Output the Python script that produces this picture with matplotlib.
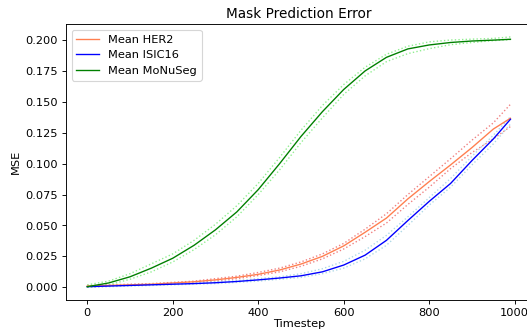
import matplotlib
matplotlib.use("Agg")
import matplotlib.pyplot as plt
import numpy as np

# timesteps (sampled every 50, last one is 990)
timesteps = [0, 50, 100, 150, 200, 250, 300, 350, 400, 450, 500,
             550, 600, 650, 700, 750, 800, 850, 900, 950, 990]

# HER2
her2_mean = [0.001, 0.0015, 0.002, 0.0025, 0.0035, 0.0045, 0.006, 0.008, 0.0105, 0.014, 0.0188,
             0.025, 0.0335, 0.0445, 0.056, 0.0715, 0.0855, 0.099, 0.113, 0.128, 0.1367]
her2_run1 = [0.0015, 0.002, 0.0025, 0.003, 0.004, 0.005, 0.007, 0.009, 0.012, 0.0155, 0.0205,
             0.027, 0.0355, 0.047, 0.0595, 0.075, 0.0895, 0.104, 0.119, 0.133, 0.148]
her2_run2 = [0.0, 0.001, 0.0015, 0.002, 0.003, 0.004, 0.005, 0.007, 0.0095, 0.0125, 0.017,
             0.023, 0.031, 0.041, 0.052, 0.067, 0.081, 0.096, 0.109, 0.12, 0.13]

# ISIC16
isic_mean = [0.0005, 0.001, 0.0015, 0.002, 0.0025, 0.003, 0.0037, 0.0047, 0.006, 0.0075, 0.0093,
             0.0125, 0.018, 0.026, 0.038, 0.054, 0.0695, 0.084, 0.1025, 0.12, 0.1359]
isic_run1 = [0.001, 0.0015, 0.002, 0.0025, 0.003, 0.0035, 0.0045, 0.0055, 0.007, 0.0085, 0.011,
             0.015, 0.021, 0.03, 0.042, 0.057, 0.0725, 0.088, 0.106, 0.123, 0.138]
isic_run2 = [0.0, 0.0005, 0.001, 0.0015, 0.002, 0.0025, 0.003, 0.004, 0.005, 0.0065, 0.008,
             0.011, 0.0155, 0.023, 0.034, 0.05, 0.0665, 0.081, 0.099, 0.116, 0.132]

# MoNuSeg
monu_mean = [0.0005, 0.0035, 0.0085, 0.0155, 0.0235, 0.034, 0.0465, 0.061, 0.079, 0.1, 0.122,
             0.142, 0.16, 0.175, 0.186, 0.1928, 0.196, 0.198, 0.1992, 0.1999, 0.2006]
monu_run1 = [0.002, 0.005, 0.011, 0.019, 0.027, 0.038, 0.051, 0.066, 0.084, 0.105, 0.127,
             0.147, 0.164, 0.178, 0.1885, 0.195, 0.1985, 0.2, 0.2007, 0.2013, 0.2025]
monu_run2 = [0.0, 0.002, 0.0065, 0.0125, 0.0205, 0.0305, 0.0425, 0.057, 0.075, 0.095, 0.117,
             0.137, 0.156, 0.171, 0.1825, 0.189, 0.193, 0.1962, 0.198, 0.1995, 0.2003]

# low dpi so the default font sizes come out like the reference
fig = plt.figure(figsize=(6.427, 4.086), dpi=82)
# axes runs a little past the right edge, like the cropped original
ax = fig.add_axes([0.1254, 0.105, 0.8833, 0.822])

lw = 1.2
for run in (her2_run1, her2_run2):
    ax.plot(timesteps, run, linestyle=':', color='lightcoral', linewidth=lw)
for run in (isic_run1, isic_run2):
    ax.plot(timesteps, run, linestyle=':', color='lightblue', linewidth=lw)
for run in (monu_run1, monu_run2):
    ax.plot(timesteps, run, linestyle=':', color='lightgreen', linewidth=lw)

ax.plot(timesteps, her2_mean, color='coral', linewidth=lw, label='Mean HER2')
ax.plot(timesteps, isic_mean, color='blue', linewidth=lw, label='Mean ISIC16')
ax.plot(timesteps, monu_mean, color='green', linewidth=lw, label='Mean MoNuSeg')

ax.set_title('Mask Prediction Error')
ax.set_xlabel('Timestep', labelpad=1)
ax.set_ylabel('MSE')
ax.legend(loc='upper left')

fig.savefig('out.png', dpi=82)
